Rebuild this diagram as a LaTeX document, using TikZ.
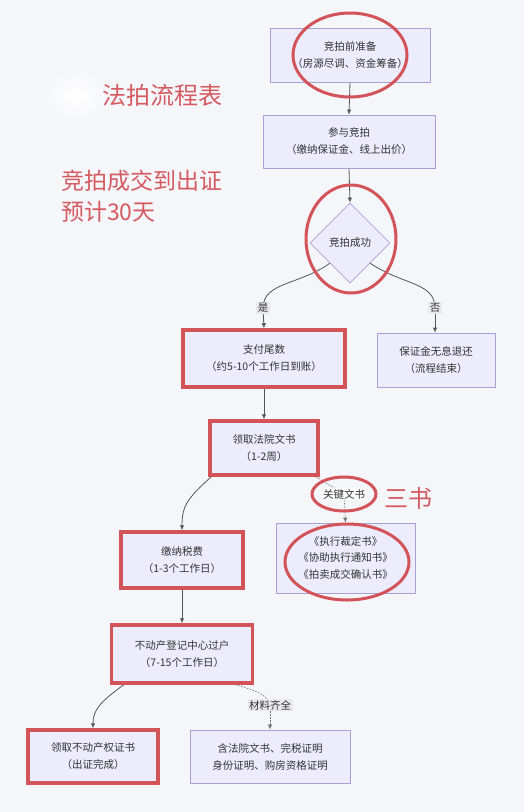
\documentclass[tikz,border=0pt]{standalone}
\usepackage{fontspec}
\setmainfont{Noto Sans CJK SC}
\usetikzlibrary{shapes.geometric,arrows.meta}
\definecolor{bgc}{HTML}{F5F6FA}
\definecolor{boxfill}{HTML}{ECECFD}
\definecolor{boxline}{HTML}{A7A2D6}
\definecolor{redc}{HTML}{D25459}
\definecolor{redt}{HTML}{D45A60}
\definecolor{txt}{HTML}{333333}
\definecolor{edgec}{HTML}{555555}
\definecolor{lblbg}{HTML}{E9E9EC}
\pgfdeclarelayer{edges}
\pgfsetlayers{edges,main}
\tikzset{
  box/.style={draw=boxline, fill=boxfill, line width=0.8pt, align=center,
    font=\fontsize{10.5}{17}\selectfont, text=txt, inner sep=0pt, rectangle},
  redbox/.style={box, draw=redc, line width=3.5pt},
  dia/.style={diamond, draw=boxline, fill=boxfill, line width=0.8pt, align=center,
    font=\fontsize{10.5}{17}\selectfont, text=txt, inner sep=0pt,
    minimum width=80pt, minimum height=80pt},
  lbl/.style={fill=lblbg, font=\fontsize{10.5}{12}\selectfont, text=txt, inner sep=1.5pt},
  edgeline/.style={draw=edgec, line width=0.8pt},
  arr/.style={-{Latex[length=5pt,width=4.5pt]}},
  dashline/.style={draw=edgec!80, line width=0.7pt, dash pattern=on 1.5pt off 1.5pt},
  ring/.style={draw=redc, line width=3pt},
  redtxt/.style={text=redt, inner sep=0pt}
}
\begin{document}
\begin{tikzpicture}[x=1pt,y=-1pt]
\useasboundingbox (0,0) rectangle (524,812);

% nodes
\node[box, minimum width=160pt, minimum height=54pt] (b1) at (350,55) {竞拍前准备\\（房源尽调、资金筹备）};
\node[box, minimum width=172pt, minimum height=53pt] (b2) at (349,141.5) {参与竞拍\\（缴纳保证金、线上出价）};
\node[dia] (d) at (350,243) {竞拍成功};
\node[redbox, minimum width=162pt, minimum height=57pt] (b3) at (264,358.5) {支付尾数\\（约5-10个工作日到账）};
\node[box, minimum width=118pt, minimum height=54pt] (b4) at (436,360) {保证金无息退还\\（流程结束）};
\node[redbox, minimum width=108pt, minimum height=54pt] (b5) at (264,448) {领取法院文书\\（1-2周）};
\node[box, minimum width=139pt, minimum height=70pt, font=\fontsize{10.5}{16.5}\selectfont] (b6) at (345.5,558) {《执行裁定书》\\《协助执行通知书》\\《拍卖成交确认书》};
\node[redbox, minimum width=122pt, minimum height=56pt] (b7) at (182,560) {缴纳税费\\（1-3个工作日）};
\node[redbox, minimum width=141pt, minimum height=58pt] (b8) at (182,654) {不动产登记中心过户\\（7-15个工作日）};
\node[redbox, minimum width=130pt, minimum height=53pt] (b9) at (93,756.5) {领取不动产权证书\\（出证完成）};
\node[box, minimum width=160pt, minimum height=53pt] (b10) at (270,756.5) {含法院文书、完税证明\\身份证明、购房资格证明};

% edge labels
\node[lbl] (l1) at (263,308) {是};
\node[lbl] (l2) at (435,308) {否};
\node[lbl, fill=white!85!lblbg, rounded corners=6pt] (l3) at (344,494) {关键文书};
\node[lbl] (l4) at (270,705) {材料齐全};

% annotations
\node[redtxt, font=\fontsize{24}{28}\selectfont] (t1) at (162,95) {法拍流程表};
\node[redtxt, font=\fontsize{23}{31}\selectfont, align=left, anchor=north west] (t2) at (61,170) {竞拍成交到出证\\预计30天};
\node[redtxt, font=\fontsize{24}{28}\selectfont] (t3) at (408,498) {三书};

\begin{pgfonlayer}{edges}
\fill[bgc] (0,0) rectangle (524,812);
\shade[inner color=white, outer color=bgc] (76,96) ellipse (34pt and 26pt);
\draw[edgeline, arr] (b1.south) -- (b2.north);
\draw[edgeline, arr] (b2.south) -- (d.north);
\draw[edgeline] (d.south west) .. controls (300,285) and (263,282) .. (l1.center);
\draw[edgeline, arr] (l1.center) -- (b3.north);
\draw[edgeline] (d.south east) .. controls (402,285) and (435,282) .. (l2.center);
\draw[edgeline, arr] (l2.center) -- ([xshift=-1pt]b4.north);
\draw[edgeline, arr] (b3.south) -- (b5.north);
\draw[edgeline, arr] ([xshift=3pt]b5.south west) .. controls (188,498) and (182,505) .. (b7.north);
\draw[dashline] ([xshift=-4pt]b5.south east) -- (l3.center);
\draw[dashline, arr] (l3.center) -- (b6.north);
\draw[edgeline, arr] (b7.south) -- (b8.north);
\draw[edgeline, arr] ([xshift=14pt]b8.south west) .. controls (100,702) and (93,710) .. (b9.north);
\draw[dashline] ([xshift=-19pt]b8.south east) .. controls (255,690) and (268,695) .. (l4.center);
\draw[dashline, arr] (l4.center) -- (b10.north);
\end{pgfonlayer}

% red rings
\draw[ring] (350,55) ellipse (57pt and 42pt);
\draw[ring] (351,239) ellipse (45pt and 54pt);
\draw[ring] (l3.center) ellipse (32pt and 17pt);
\draw[ring] (347,562) ellipse (62pt and 38pt);
\end{tikzpicture}
\end{document}
